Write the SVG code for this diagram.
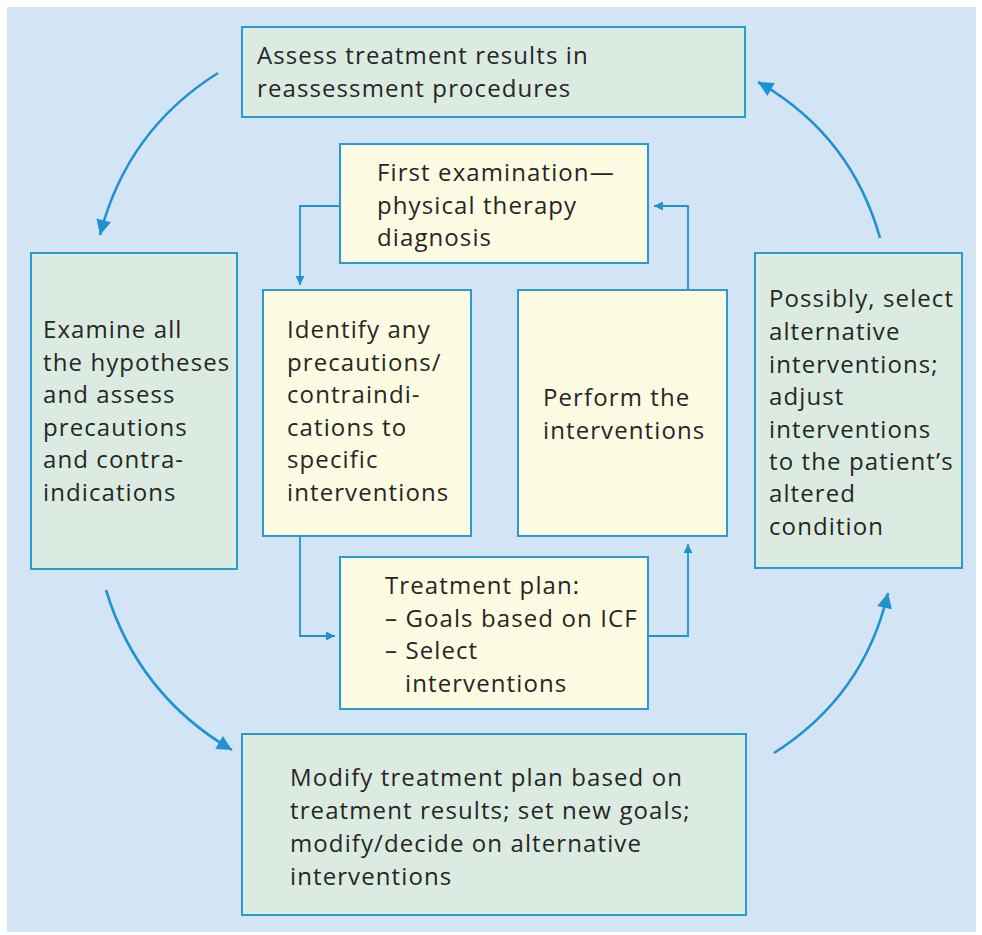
<svg xmlns="http://www.w3.org/2000/svg" width="982" height="935" viewBox="0 0 982 935">
<defs>
<style>
.g{fill:#dcebe2;stroke:#2a9bd2;stroke-width:2}
.y{fill:#fdfce2;stroke:#2a9bd2;stroke-width:2}
.t{font-family:"Open Sans","Noto Sans",sans-serif;font-size:24px;letter-spacing:1.1px;fill:#262626}
.c{fill:none;stroke:#1f93d2;stroke-width:1.8}
.a{fill:none;stroke:#1f93d2;stroke-width:2.6}
</style>
<marker id="ms" viewBox="0 0 10 10" refX="10" refY="5" markerWidth="12" markerHeight="9" markerUnits="userSpaceOnUse" orient="auto"><path d="M0,0 L10,5 L0,10 Z" fill="#1f93d2"/></marker>
<marker id="ml" viewBox="0 0 10 10" refX="10" refY="5" markerWidth="19" markerHeight="15" markerUnits="userSpaceOnUse" orient="auto"><path d="M0,0 L10,5 L0,10 Z" fill="#1f93d2"/></marker>
</defs>
<rect x="0" y="0" width="982" height="935" fill="#ffffff"/>
<rect x="7" y="7" width="969" height="925" fill="#d3e4f4"/>
<g id="connectors">
<path class="a" d="M218,73 Q127,130 100,235" marker-end="url(#ml)"/>
<path class="a" d="M880,238 Q851,135 758,82" marker-end="url(#ml)"/>
<path class="a" d="M106,590 Q138,695 232,750" marker-end="url(#ml)"/>
<path class="a" d="M774,753 Q864,696 888,593" marker-end="url(#ml)"/>
<path class="c" d="M340,206 H300 V285" marker-end="url(#ms)"/>
<path class="c" d="M688,290 V206 H654" marker-end="url(#ms)"/>
<path class="c" d="M300,536 V636 H335" marker-end="url(#ms)"/>
<path class="c" d="M648,636 H688 V544" marker-end="url(#ms)"/>
</g>
<g id="assess">
<rect class="g" x="242" y="27" width="503" height="90"/>
<text class="t" x="257" y="64">Assess treatment results in</text>
<text class="t" x="257" y="97">reassessment procedures</text>
</g>
<g id="first">
<rect class="y" x="340" y="144" width="308" height="119"/>
<text class="t" x="377" y="181">First examination—</text>
<text class="t" x="377" y="214">physical therapy</text>
<text class="t" x="377" y="246">diagnosis</text>
</g>
<g id="examine">
<rect class="g" x="31" y="253" width="206" height="316"/>
<text class="t" x="43" y="338">Examine all</text>
<text class="t" x="43" y="371">the hypotheses</text>
<text class="t" x="43" y="403">and assess</text>
<text class="t" x="43" y="436">precautions</text>
<text class="t" x="43" y="468">and contra-</text>
<text class="t" x="43" y="501">indications</text>
</g>
<g id="identify">
<rect class="y" x="263" y="290" width="208" height="246"/>
<text class="t" x="287" y="338">Identify any</text>
<text class="t" x="287" y="371">precautions/</text>
<text class="t" x="287" y="403">contraindi-</text>
<text class="t" x="287" y="436">cations to</text>
<text class="t" x="287" y="468">specific</text>
<text class="t" x="287" y="501">interventions</text>
</g>
<g id="perform">
<rect class="y" x="518" y="290" width="209" height="246"/>
<text class="t" x="543" y="406">Perform the</text>
<text class="t" x="543" y="439">interventions</text>
</g>
<g id="possibly">
<rect class="g" x="755" y="253" width="207" height="315"/>
<text class="t" x="769" y="307">Possibly, select</text>
<text class="t" x="769" y="340">alternative</text>
<text class="t" x="769" y="373">interventions;</text>
<text class="t" x="769" y="405">adjust</text>
<text class="t" x="769" y="438">interventions</text>
<text class="t" x="769" y="470">to the patient’s</text>
<text class="t" x="769" y="502">altered</text>
<text class="t" x="769" y="535">condition</text>
</g>
<g id="plan">
<rect class="y" x="340" y="557" width="308" height="152"/>
<text class="t" x="385" y="594">Treatment plan:</text>
<text class="t" x="385" y="627">– Goals based on ICF</text>
<text class="t" x="385" y="659">– Select</text>
<text class="t" x="405" y="692">interventions</text>
</g>
<g id="modify">
<rect class="g" x="242" y="734" width="504" height="181"/>
<text class="t" x="290" y="786">Modify treatment plan based on</text>
<text class="t" x="290" y="819">treatment results; set new goals;</text>
<text class="t" x="290" y="852">modify/decide on alternative</text>
<text class="t" x="290" y="885">interventions</text>
</g>
</svg>
